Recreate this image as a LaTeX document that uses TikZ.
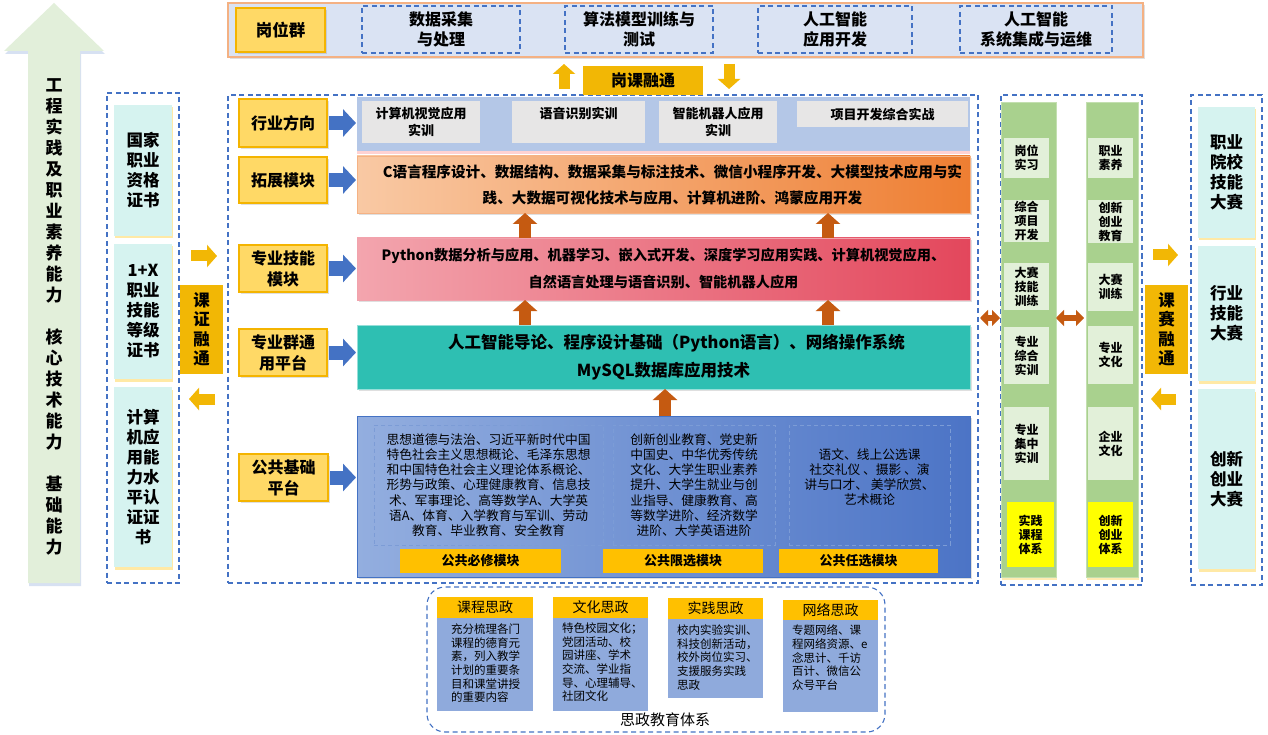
\documentclass[tikz,border=0pt]{standalone}
\usepackage{fontspec}
\setmainfont{Noto Sans CJK SC}
\usetikzlibrary{arrows.meta,shadows,calc}
\definecolor{cYel}{HTML}{FFD966}
\definecolor{cGoldB}{HTML}{F4B400}
\definecolor{cGold}{HTML}{F2B705}
\definecolor{cOrgB}{HTML}{F4B183}
\definecolor{cTop}{HTML}{DAE3F3}
\definecolor{cBlue}{HTML}{4472C4}
\definecolor{cBand}{HTML}{B4C7E7}
\definecolor{cGray}{HTML}{E7E6E6}
\definecolor{cBrown}{HTML}{C55A11}
\definecolor{cTeal}{HTML}{2EBFB2}
\definecolor{cCyan}{HTML}{D6F3F0}
\definecolor{cGreen}{HTML}{A9D18E}
\definecolor{cLGreen}{HTML}{E2F0D9}
\definecolor{cArrowG}{HTML}{E2EFDA}
\definecolor{cSz}{HTML}{8FAADC}
\definecolor{cAmber}{HTML}{FFC000}
\definecolor{cYellow}{HTML}{FFFF00}
\definecolor{cOrL}{HTML}{F9C9A4}
\definecolor{cOrR}{HTML}{EE7E32}
\definecolor{cPkL}{HTML}{F3A5AE}
\definecolor{cPkR}{HTML}{E3475C}
\definecolor{cPbL}{HTML}{93AEDF}
\definecolor{cPbR}{HTML}{4C74C6}
\newcommand\fs[2]{\fontsize{#1}{#2}\selectfont}
\newcommand\bx[7]{\node[#6, minimum width={(#4)-(#2)}, minimum height={(#5)-(#3)}] (#1) at ({((#2)+(#4))/2},{((#3)+(#5))/2}) {#7};}
\tikzset{
  every node/.style={inner sep=0pt, outer sep=0pt, text=black},
  sh/.style={drop shadow={shadow xshift=1.5pt, shadow yshift=-2pt, opacity=.25}},
  lab/.style={draw=cGoldB, fill=cYel, line width=1.2pt, align=center, font=\bfseries\fs{16}{21}, sh},
  dbox/.style={draw=cBlue, dash pattern=on 5pt off 3.5pt, line width=1.1pt, align=center},
  ibox/.style={draw=cBlue!70!white, dash pattern=on 4pt off 3pt, line width=0.9pt},
  topt/.style={dbox, font=\bfseries\fs{16}{20}},
  goldv/.style={fill=cGold, align=center, font=\bfseries\fs{16.5}{19.5}},
  cyanbox/.style={fill=cCyan, align=center, font=\bfseries\fs{16.5}{20}, drop shadow={shadow xshift=1pt, shadow yshift=-2.5pt, opacity=.35, fill=cAmber}},
  graybox/.style={fill=cGray, align=center, font=\bfseries\fs{13}{17}},
  gcol/.style={fill=cGreen, draw=cGreen!70!white, drop shadow={shadow xshift=1pt, shadow yshift=-2.5pt, opacity=.3, fill=cAmber}},
  gin/.style={fill=cLGreen, align=center, font=\bfseries\fs{12}{14}},
  yin/.style={fill=cYellow, align=center, font=\bfseries\fs{12}{14}},
  modlab/.style={fill=cAmber, font=\bfseries\fs{13}{16}},
  ptext/.style={align=center, font=\fs{12.75}{15.2}},
  szh/.style={fill=cAmber, font=\fs{14}{17}},
  szb/.style={fill=cSz},
  szt/.style={align=left, font=\fs{11.5}{13.6}, anchor=north west},
  barr/.style={draw=cBlue, line width=14pt, -{Triangle[length=13pt,width=27pt]}},
  oarr/.style={draw=cBrown, line width=12pt, -{Triangle[length=11pt,width=24pt]}},
  garr/.style={draw=cGold, line width=11pt, -{Triangle[length=10pt,width=22pt]}},
  darr/.style={draw=cBrown, line width=6pt, {Triangle[length=8pt,width=16pt]}-{Triangle[length=8pt,width=16pt]}}
}
\begin{document}
\begin{tikzpicture}[x=1pt,y=-1pt]
\useasboundingbox (0,0) rectangle (1268,735);
\fill[white] (0,0) rectangle (1268,735);

% ---- big left arrow
\fill[cArrowG, drop shadow={shadow xshift=1pt, shadow yshift=-3pt, opacity=.35, fill=cBlue!60}]
  (54,3) -- (104,51) -- (80,51) -- (80,583) -- (28,583) -- (28,51) -- (4,51) -- cycle;
\node[align=center, font=\bfseries\fs{17}{21}] (ability) at (54,317)
  {工\\程\\实\\践\\及\\职\\业\\素\\养\\能\\力\\[21pt]核\\心\\技\\术\\能\\力\\[21pt]基\\础\\能\\力};

% ---- top group
\bx{top}{228}{3}{1143}{57}{draw=cOrgB, fill=cTop, line width=1.5pt, sh}{}
\bx{gwq}{236}{8}{325}{52}{lab, font=\bfseries\fs{16.5}{20}}{岗位群}
\bx{g1}{362}{6}{520}{53}{topt}{数据采集\\与处理}
\bx{g2}{565}{6}{713}{53}{topt}{算法模型训练与\\测试}
\bx{g3}{758}{6}{912}{53}{topt}{人工智能\\应用开发}
\bx{g4}{960}{6}{1112}{53}{topt}{人工智能\\系统集成与运维}

% ---- main dashed frame
\bx{main}{228}{95}{978}{583}{dbox}{}
\bx{gkrt}{583}{66}{703}{95}{fill=cGold, font=\bfseries\fs{16}{20}}{岗课融通}
\coordinate (xu) at (564,0);
\coordinate (xd) at (729,0);
\draw[garr, shorten <=6pt, shorten >=7pt] (main.north -| xu) -- (top.south -| xu);
\draw[garr, shorten <=7pt, shorten >=6pt] (top.south -| xd) -- (main.north -| xd);

% ---- left labels
\bx{l1}{239}{99}{327}{147}{lab}{行业方向}
\bx{l2}{239}{157}{327}{203}{lab}{拓展模块}
\bx{l3}{239}{245}{327}{292}{lab}{专业技能\\模块}
\bx{l4}{239}{329}{327}{376}{lab}{专业群通\\用平台}
\bx{l5}{239}{454}{328}{501}{lab}{公共基础\\平台}

% ---- bands
\bx{b1}{357}{97}{970}{151}{fill=cBand, drop shadow={shadow xshift=0pt, shadow yshift=-3pt, opacity=.35, fill=red!50}}{}
\bx{i1}{362}{101}{480}{143}{graybox}{计算机视觉应用\\实训}
\bx{i2}{512}{101}{645}{143}{graybox}{语音识别实训\\\phantom{实训}}
\bx{i3}{659}{101}{777}{143}{graybox}{智能机器人应用\\实训}
\bx{i4}{797}{101}{968}{127}{graybox}{项目开发综合实战}

\bx{b2}{357}{156}{970}{213}{left color=cOrL, right color=cOrR, draw=cOrR!60!white, align=center, font=\bfseries\fs{14.6}{26}, sh}{\hspace*{18pt}C语言程序设计、数据结构、数据采集与标注技术、微信小程序开发、大模型技术应用与实\\\hspace*{18pt}践、大数据可视化技术与应用、计算机进阶、鸿蒙应用开发}
\bx{b3}{357}{238}{970}{300}{left color=cPkL, right color=cPkR, draw=cPkR!50!white, align=center, font=\bfseries\fs{14.2}{27}, sh}{Python数据分析与应用、机器学习、嵌入式开发、深度学习应用实践、计算机视觉应用、\\自然语言处理与语音识别、智能机器人应用}
\bx{b4}{357}{325}{970}{389}{fill=cTeal, draw=cTeal!50!white, align=center, font=\bfseries\fs{16.5}{28}, sh}{\hspace*{26pt}人工智能导论、程序设计基础（Python语言）、网络操作系统\\MySQL数据库应用技术}
\bx{b5}{357}{416}{970}{577}{left color=cPbL, right color=cPbR, draw=cBlue, line width=1pt, sh}{}

\bx{p1}{374}{425}{603}{545}{ibox, ptext}{思想道德与法治、习近平新时代中国\\特色社会主义思想概论、毛泽东思想\\和中国特色社会主义理论体系概论、\\形势与政策、心理健康教育、信息技\\术、军事理论、高等数学A、大学英\\语A、体育、入学教育与军训、劳动\\教育、毕业教育、安全教育}
\bx{p2}{613}{425}{775}{545}{ibox, ptext}{创新创业教育、党史新\\中国史、中华优秀传统\\文化、大学生职业素养\\提升、大学生就业与创\\业指导、健康教育、高\\等数学进阶、经济数学\\进阶、大学英语进阶}
\bx{p3}{789}{425}{950}{545}{ibox}{}
\node[ptext] (p3t) at ([yshift=8pt]p3.center) {语文、线上公选课\\社交礼仪 、摄影 、演\\讲与口才、 美学欣赏、\\艺术概论};
\bx{m1}{400}{549}{561}{573}{modlab}{公共必修模块}
\bx{m2}{603}{549}{763}{573}{modlab}{公共限选模块}
\bx{m3}{779}{549}{938}{573}{modlab}{公共任选模块}

% blue arrows
\foreach \l/\b in {l1/b1,l2/b2,l3/b3,l4/b4,l5/b5}
  \draw[barr, shorten <=2pt, shorten >=1pt] (\l.east) -- (\l.east -| \b.west);

% brown up arrows
\coordinate (xa) at (525,0);
\coordinate (xb) at (828,0);
\coordinate (xc) at (665,0);
\draw[oarr] (b3.north -| xa) -- (b2.south -| xa);
\draw[oarr] (b3.north -| xb) -- (b2.south -| xb);
\draw[oarr] (b4.north -| xa) -- (b3.south -| xa);
\draw[oarr] (b4.north -| xb) -- (b3.south -| xb);
\draw[oarr] (b5.north -| xc) -- (b4.south -| xc);

% ---- certificates
\bx{certs}{107}{93}{179}{583}{dbox}{}
\bx{c1}{114}{105}{172}{236}{cyanbox}{国家\\职业\\资格\\证书}
\bx{c2}{114}{244}{172}{379}{cyanbox}{1+X\\职业\\技能\\等级\\证书}
\bx{c3}{114}{387}{172}{567}{cyanbox}{计算\\机应\\用能\\力水\\平认\\证证\\书}
\bx{kzrt}{180}{285}{223}{374}{goldv}{课\\证\\融\\通}
\coordinate (ya) at (0,256);
\coordinate (yb) at (0,399);
\draw[garr, shorten <=12pt, shorten >=11pt] (certs.east |- ya) -- (main.west |- ya);
\draw[garr, shorten <=13pt, shorten >=10pt] (main.west |- yb) -- (certs.east |- yb);

% ---- practice columns
\bx{prac}{1001}{95}{1142}{585}{dbox}{}
\bx{gc1}{1001}{102}{1056}{577}{gcol}{}
\bx{gc2}{1086}{102}{1138}{577}{gcol}{}
\bx{a1}{1004}{138}{1049}{178}{gin}{岗位\\实习}
\bx{a2}{1004}{200}{1049}{242}{gin}{综合\\项目\\开发}
\bx{a3}{1004}{263}{1049}{310}{gin}{大赛\\技能\\训练}
\bx{a4}{1004}{327}{1049}{384}{gin}{专业\\综合\\实训}
\bx{a5}{1004}{407}{1049}{480}{gin}{专业\\集中\\实训}
\bx{a6}{1007}{502}{1054}{567}{yin}{实践\\课程\\体系}
\bx{r1}{1088}{138}{1133}{178}{gin}{职业\\素养}
\bx{r2}{1088}{200}{1133}{243}{gin}{创新\\创业\\教育}
\bx{r3}{1088}{263}{1133}{311}{gin}{大赛\\训练}
\bx{r4}{1088}{326}{1133}{384}{gin}{专业\\文化}
\bx{r5}{1088}{407}{1133}{480}{gin}{企业\\文化}
\bx{r6}{1088}{502}{1133}{567}{yin}{创新\\创业\\体系}
\coordinate (yc) at (0,318);
\draw[darr, shorten <=2pt, shorten >=1pt] (main.east |- yc) -- (gc1.west |- yc);
\draw[darr, shorten <=0pt, shorten >=2pt] (gc1.east |- yc) -- (gc2.west |- yc);

% ---- competitions
\bx{comp}{1191}{95}{1262}{585}{dbox}{}
\bx{k1}{1198}{107}{1255}{238}{cyanbox}{职业\\院校\\技能\\大赛}
\bx{k2}{1198}{246}{1255}{381}{cyanbox}{行业\\技能\\大赛}
\bx{k3}{1198}{389}{1255}{569}{cyanbox}{创新\\创业\\大赛}
\bx{ksrt}{1145}{285}{1188}{374}{goldv}{课\\赛\\融\\通}
\coordinate (yd) at (0,255);
\coordinate (ye) at (0,399);
\draw[garr, shorten <=11pt, shorten >=13pt] (prac.east |- yd) -- (comp.west |- yd);
\draw[garr, shorten <=15pt, shorten >=9pt] (comp.west |- ye) -- (prac.east |- ye);

% ---- ideological education
\bx{sz}{427}{587}{885}{732}{dbox, rounded corners=18pt}{}
\bx{h1}{437}{597}{533}{618}{szh}{课程思政}
\bx{s1}{437}{618}{533}{711}{szb}{}
\bx{h2}{553}{597}{648}{618}{szh}{文化思政}
\bx{s2}{553}{618}{648}{711}{szb}{}
\bx{h3}{668}{598}{763}{619}{szh}{实践思政}
\bx{s3}{668}{619}{763}{698}{szb}{}
\bx{h4}{783}{600}{878}{620}{szh}{网络思政}
\bx{s4}{783}{620}{878}{712}{szb}{}
\node[szt] (t1) at (451,624) {充分梳理各门\\课程的德育元\\素，列入教学\\计划的重要条\\目和课堂讲授\\的重要内容};
\node[szt] (t2) at (562,623) {特色校园文化；\\党团活动、校\\园讲座、学术\\交流、学业指\\导、心理辅导、\\社团文化};
\node[szt] (t3) at (677,625) {校内实验实训、\\科技创新活动，\\校外岗位实习、\\支援服务实践\\思政};
\node[szt] (t4) at (792,625) {专题网络、课\\程网络资源、e\\念思计、千访\\百计、微信公\\众号平台};
\node[font=\fs{15}{18}] (szcap) at (665,720) {思政教育体系};
\end{tikzpicture}
\end{document}
